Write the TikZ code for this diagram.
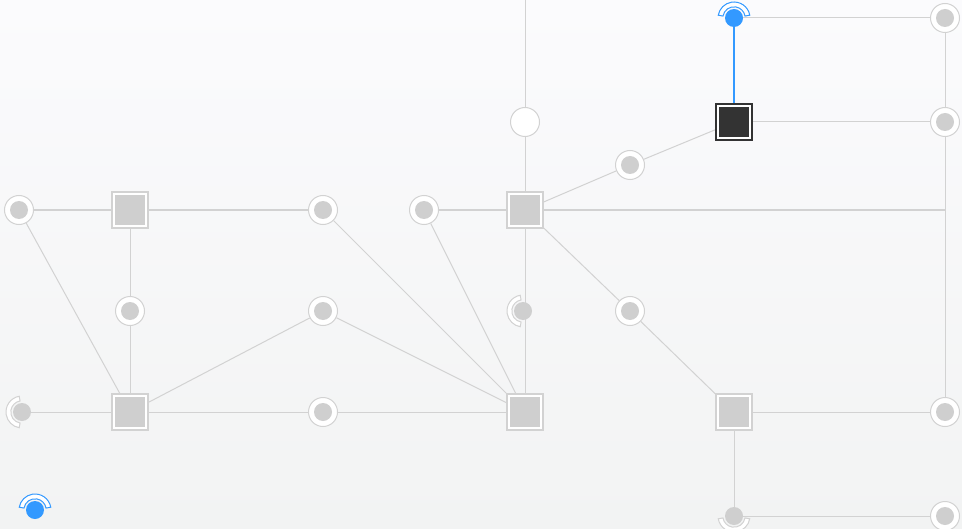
\documentclass[tikz,border=0pt]{standalone}
\usetikzlibrary{backgrounds}
\definecolor{wiregray}{HTML}{D2D2D2}
\definecolor{padgray}{HTML}{CFCFCF}
\definecolor{signalblue}{HTML}{3399FF}
\definecolor{darkhub}{HTML}{333333}
\definecolor{bgtop}{HTML}{FBFBFD}
\definecolor{bgbottom}{HTML}{F2F3F3}
\tikzset{
	% ------- every something
	every picture/.style={
		x=0.5pt, y=-0.5pt,
	},
	% ------- custom
	wire/.style={
		line width=0.5pt,
		wiregray,
	},
	signal/.style={
		line width=0.6pt,
		signalblue,
	},
	port/.style={
		circle, draw=wiregray, line width=0.5pt, fill=white,
		minimum size=14.5pt, inner sep=0pt,
		path picture={
			\fill[padgray] (path picture bounding box.center) circle (4.5pt);
		},
	},
	stub/.style={
		circle, fill=padgray, minimum size=9pt, inner sep=0pt,
	},
	beacon/.style={
		circle, fill=signalblue, minimum size=9pt, inner sep=0pt,
	},
	hub/.style={
		rectangle, draw=wiregray, line width=0.6pt, fill=white,
		minimum size=18pt, inner sep=0pt,
		path picture={
			\fill[#1] ([shift={(-7.5pt,-7.5pt)}]path picture bounding box.center)
			rectangle ([shift={(7.5pt,7.5pt)}]path picture bounding box.center);
		},
	},
	hub/.default=padgray,
	junction/.style={
		circle, draw=wiregray, line width=0.5pt, fill=white,
		minimum size=14.5pt, inner sep=0pt,
	},
}
% annular sector behind a dot: [colour]{node}{start angle}{end angle}
\newcommand{\ringarc}[4][wiregray]{%
	\draw[#1, line width=0.5pt, fill=white]
		([shift={(#3:8pt)}]#2.center) arc[start angle=#3, end angle=#4, radius=8pt]
		-- ([shift={(#4:5.6pt)}]#2.center) arc[start angle=#4, end angle=#3, radius=5.6pt]
		-- cycle;
}

\begin{document}
\begin{tikzpicture}

% frame %{{{1

	\useasboundingbox (0,0) rectangle (962,529);

% coordinates %{{{1

	\coordinate (top) at (525,0);
	\coordinate (corner) at (945,210);

% hubs %{{{1

	\node[hub] (H1) at (130,210) {};
	\node[hub] (H2) at (525,210) {};
	\node[hub] (H3) at (130,412) {};
	\node[hub] (H4) at (525,412) {};
	\node[hub] (H5) at (734,412) {};
	\node[hub=darkhub, draw=darkhub] (K) at (734,122) {};

% ports %{{{1

	\node[port] (P1) at (19,210) {};
	\node[port] (P2) at (323,210) {};
	\node[port] (P3) at (424,210) {};
	\node[port] (P4) at (130,311) {};
	\node[port] (P5) at (323,311) {};
	\node[port] (P6) at (630,165) {};
	\node[port] (P7) at (630,311) {};
	\node[port] (P8) at (323,412) {};
	\node[port] (P9) at (945,18) {};
	\node[port] (P10) at (945,122) {};
	\node[port] (P11) at (945,412) {};
	\node[port] (P12) at (945,516) {};

	\node[junction] (J) at (525,122) {};

% stubs, beacons %{{{1

	\node[stub] (S1) at (22,412) {};
	\node[stub] (S2) at (523,311) {};
	\node[stub] (S3) at (734,516) {};

	\node[beacon] (BN) at (734,18) {};
	\node[beacon] (BS) at (35,510) {};

% wires %{{{1

	\begin{pgfonlayer}{background}
	\shade[top color=bgtop, bottom color=bgbottom] (0,0) rectangle (962,529);

	\draw[wire] (top) -- (J) -- (H2);
	\draw[wire] (H2) -- (H4);
	\draw[wire] (BN) -- (P9);
	\draw[wire] (P9) -- (P10) -- (corner) -- (P11);
	\draw[wire] (K) -- (P10);
	\draw[wire] (K) -- (P6) -- (H2);
	\draw[wire] (H2) -- (corner);
	\draw[wire] (H2) -- (P7) -- (H5);
	\draw[wire] (H5) -- (P11);
	\draw[wire] (H5) -- (S3) -- (P12);
	\draw[wire] (P3) -- (H2);
	\draw[wire] (P3) -- (H4);
	\draw[wire] (P2) -- (H4);
	\draw[wire] (P5) -- (H4);
	\draw[wire] (P5) -- (H3);
	\draw[wire] (P1) -- (H1) -- (P2);
	\draw[wire] (P1) -- (H3);
	\draw[wire] (H1) -- (P4) -- (H3);
	\draw[wire] (S1) -- (H3) -- (P8) -- (H4);
	\draw[signal] (BN) -- (K);

% half rings %{{{1

	\ringarc{S1}{100}{260}
	\ringarc{S2}{100}{260}
	\ringarc{S3}{190}{350}
	\ringarc[signalblue]{BN}{10}{170}
	\ringarc[signalblue]{BS}{10}{170}
	\end{pgfonlayer}

% closing %{{{1

\end{tikzpicture}
\end{document}
